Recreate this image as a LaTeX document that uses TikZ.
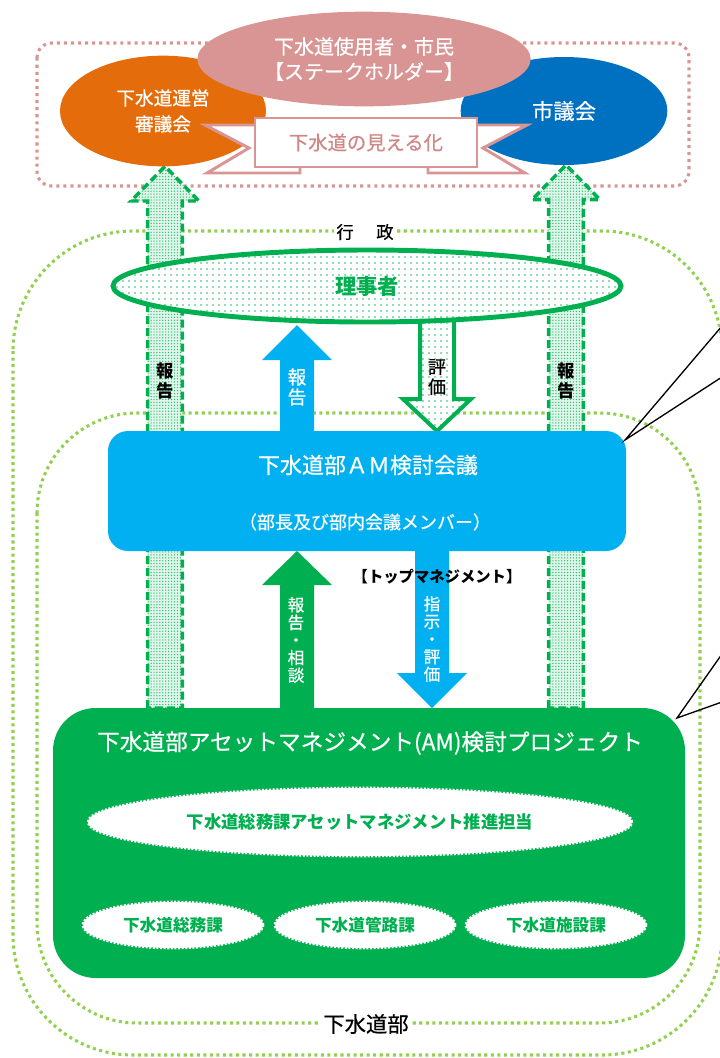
\documentclass[tikz,border=0pt]{standalone}
\usepackage{fontspec}
\newfontfamily\jp{Noto Sans CJK JP}
\newfontfamily\jpm[FakeBold=0.6]{Noto Sans CJK JP}
\usetikzlibrary{shapes.geometric,patterns,calc}
\pgfdeclarelayer{bottom}
\pgfdeclarelayer{back}
\pgfsetlayers{bottom,back,main}
\definecolor{pinkc}{HTML}{D99594}
\definecolor{pinktxt}{HTML}{D08886}
\definecolor{orangec}{HTML}{E46C0A}
\definecolor{navyc}{HTML}{0070C0}
\definecolor{skyc}{HTML}{00B0F0}
\definecolor{greenc}{HTML}{00B050}
\definecolor{limec}{HTML}{92D050}
\pgfdeclarepatternformonly{sparsedots}{\pgfqpoint{-1pt}{-1pt}}{\pgfqpoint{5.5pt}{5.5pt}}{\pgfqpoint{4.5pt}{4.5pt}}{\pgfpathcircle{\pgfqpoint{2.25pt}{2.25pt}}{0.6pt}\pgfusepath{fill}}
\pgfdeclarepatternformonly{densedots}{\pgfqpoint{-1pt}{-1pt}}{\pgfqpoint{3pt}{3pt}}{\pgfqpoint{2.2pt}{2.2pt}}{\pgfpathcircle{\pgfqpoint{1.1pt}{1.1pt}}{0.55pt}\pgfusepath{fill}}
% block arrow: style, tail, tip, half shaft, half head, head length
\newcommand\BlkArrow[6]{%
  \coordinate (ba-t) at (#2);
  \coordinate (ba-h) at (#3);
  \coordinate (ba-b) at ($(ba-h)!#6!(ba-t)$);
  \path[#1] ($(ba-t)!#4!90:(ba-h)$) -- ($(ba-b)!#4!90:(ba-h)$) -- ($(ba-b)!#5!90:(ba-h)$) -- (ba-h)
    -- ($(ba-b)!#5!-90:(ba-h)$) -- ($(ba-b)!#4!-90:(ba-h)$) -- ($(ba-t)!#4!-90:(ba-h)$) -- cycle;}
\begin{document}
\begin{tikzpicture}[x=0.75pt,y=-0.75pt,
  every node/.style={inner sep=0pt,outer sep=0pt,font=\jp},
  fz/.style 2 args={font=\jpm\fontsize{#1}{#2}\selectfont},
  fzb/.style 2 args={font=\jp\fontsize{#1}{#2}\selectfont\bfseries},
  pinkdot/.style={draw=pinkc,line width=2.3pt,dash pattern=on 2.3pt off 3pt},
  limedot/.style={draw=limec,line width=2.3pt,dash pattern=on 2.3pt off 2.6pt},
  sidearrow/.style={draw=greenc,line width=2.6pt,dash pattern=on 6pt off 3pt,line join=miter,preaction={fill=greenc!12},pattern=densedots,pattern color=greenc!80},
  hollowarrow/.style={draw=greenc,line width=3pt,line join=miter,preaction={fill=white},pattern=sparsedots,pattern color=greenc!85},
  ribbon/.style={fill=white,draw=pinkc,line width=2.2pt,line join=miter},
  bubble/.style={ellipse,fill=white,draw=white,line width=2pt,dash pattern=on 1.5pt off 1.2pt,text=greenc},
  callout/.style={draw=black,line width=1pt,line join=miter}
]
\useasboundingbox (0,0) rectangle (720,1058);

% x positions of the vertical arrows
\coordinate (xL) at (165,0);
\coordinate (xR) at (566,0);
\coordinate (xA) at (297,0);
\coordinate (xB) at (437,0);
\coordinate (xC) at (432,0);

\begin{pgfonlayer}{bottom}
  \draw[pinkdot,rounded corners=11pt] (37,43) rectangle (689,186);
  \draw[limedot,rounded corners=90pt] (13,231) rectangle (722,1055);
  \draw[limedot,rounded corners=75pt] (37,413) rectangle (700,1023);
\end{pgfonlayer}

% stakeholders
\node[ellipse,fill=orangec,minimum width=154.5pt,minimum height=83pt,text=white,align=center,fz={14}{19.5}] (shingi) at (163,111) {下水道運営\\審議会};
\node[ellipse,fill=navyc,minimum width=155pt,minimum height=81pt,text=white,fz={16}{19}] (shigi) at (564,111) {市議会};
\node[ellipse,fill=pinkc,minimum width=250pt,minimum height=71pt,text=white,align=center,fz={15}{18.75}] (stake) at (364,59) {下水道使用者・市民\\【ステークホルダー】};

% ribbon
\path[ribbon] (256,125) -- (205,125) -- (249,148) -- (207,173) -- (300,173) -- (300,160) -- cycle;
\path[ribbon] (476,125) -- (527,125) -- (483,148) -- (525,173) -- (428,173) -- (428,160) -- cycle;
\node[rectangle,fill=white,draw=pinkc,line width=2.2pt,minimum width=166.5pt,minimum height=36.75pt,text=pinktxt,fz={14.5}{16}] (mieru) at (366,142.5) {下水道の見える化};

% executives
\node[ellipse,draw=greenc,line width=3.7pt,preaction={fill=white},pattern=sparsedots,pattern color=greenc!85,minimum width=381pt,minimum height=54pt,text=greenc,fzb={16}{18}] (riji) at (367,286) {理事者};

% AM meeting
\node[rectangle,rounded corners=15pt,fill=skyc,minimum width=388.5pt,minimum height=90pt] (am) at (367,491) {};
\node[text=white,fz={16.5}{18}] (amT) at (368,465) {下水道部ＡＭ検討会議};
\node[text=white,fz={13.5}{16}] (amM) at (365,522) {（部長及び部内会議メンバー）};

% AM project
\node[rectangle,rounded corners=32pt,fill=greenc,minimum width=474pt,minimum height=202.5pt] (proj) at (369,843) {};
\node[text=white,fz={17}{19}] (projT) at (370,743) {下水道部アセットマネジメント(AM)検討プロジェクト};
\node[bubble,minimum width=408pt,minimum height=51pt,fzb={13}{15}] (suishin) at (360,822) {下水道総務課アセットマネジメント推進担当};
\node[bubble,minimum width=135pt,minimum height=34.5pt,fzb={12.5}{14}] (somu) at (173,925) {下水道総務課};
\node[bubble,minimum width=135pt,minimum height=34.5pt,fzb={12.5}{14}] (kanro) at (365,925) {下水道管路課};
\node[bubble,minimum width=135pt,minimum height=34.5pt,fzb={12.5}{14}] (shisetsu) at (556,925) {下水道施設課};

% arrows behind
\begin{pgfonlayer}{back}
  \BlkArrow{sidearrow}{proj.north -| xL}{shingi.south -| xL}{13pt}{25.5pt}{26pt}
  \BlkArrow{sidearrow}{proj.north -| xR}{shigi.south -| xR}{13pt}{25.5pt}{26pt}
  \BlkArrow{hollowarrow}{riji.center -| xB}{am.north -| xB}{12.75pt}{25.5pt}{24pt}
\end{pgfonlayer}

% arrows in front
\BlkArrow{fill=skyc}{$(am.north -| xA)+(0,5)$}{$(riji.south -| xA)+(0,3)$}{12.75pt}{26.25pt}{26.25pt}
\BlkArrow{fill=greenc}{$(proj.north -| xA)+(0,5)$}{am.south -| xA}{12.75pt}{26.25pt}{25.5pt}
\BlkArrow{fill=skyc}{$(am.south -| xC)+(0,-5)$}{proj.north -| xC}{12.75pt}{26.25pt}{26.25pt}

% arrow labels
\node[align=center,fzb={13}{14.5}] (lblL) at (165,381) {報\\告};
\node[align=center,fzb={13}{14.5}] (lblR) at (566,381) {報\\告};
\node[align=center,text=white,fz={14}{15}] (lblA) at (297,387) {報\\告};
\node[align=center,fz={13.5}{15}] (lblB) at (437,377) {評\\価};
\node[align=center,text=white,fz={12.5}{13.2}] (lblC) at (296,640) {報\\告\\・\\相\\談};
\node[align=center,text=white,fz={12.5}{13.2}] (lblD) at (432,639) {指\\示\\・\\評\\価};
\node[fzb={11.5}{13}] (topm) at (437,577) {【トップマネジメント】};

% region labels
\node[fill=white,inner sep=2pt,fz={13}{15}] (gyosei) at (365,232) {行\hspace{1.3em}政};
\node[fill=white,inner sep=2pt,fz={16}{18}] (gesuibu) at (366,1024) {下水道部};

% callouts
\coordinate (co1a) at (722,326);
\coordinate (co1b) at (722,377);
\draw[callout] (co1a) -- ($(am.north east)+(-1,9)$) -- (co1b);
\coordinate (co2a) at (722,654);
\coordinate (co2b) at (722,702);
\draw[callout] (co2a) -- ($(proj.north east)+(-8,10)$) -- (co2b);
\end{tikzpicture}
\end{document}
